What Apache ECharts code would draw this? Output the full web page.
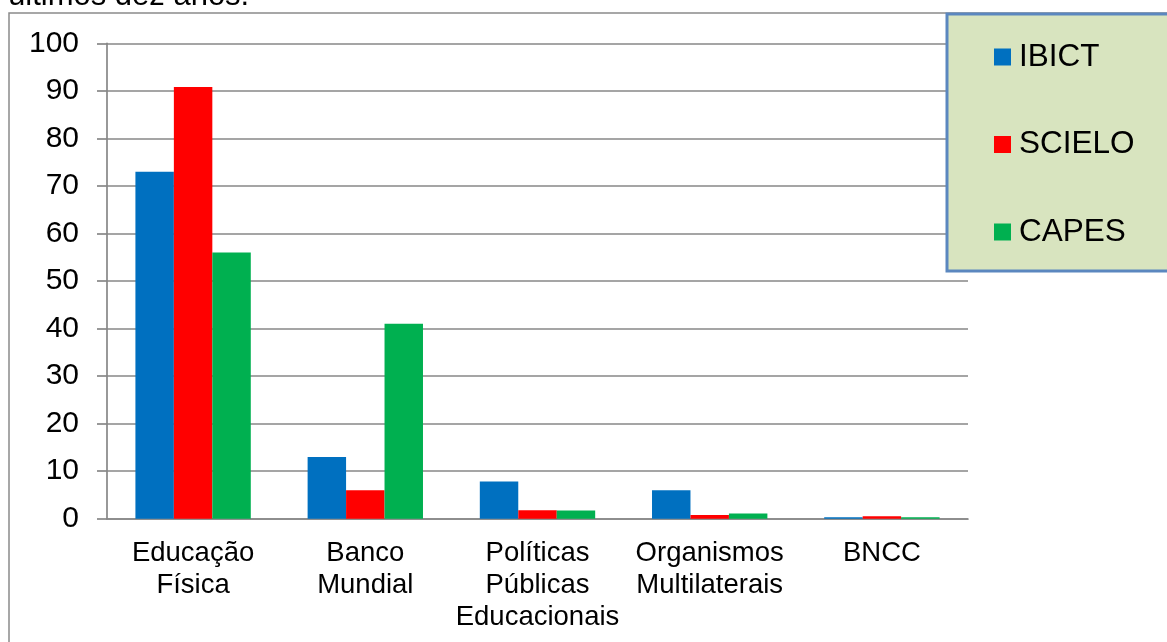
<!DOCTYPE html>
<html>
<head>
<meta charset="utf-8">
<script src="https://cdn.jsdelivr.net/npm/echarts@6/dist/echarts.min.js"></script>
<style>
html,body{margin:0;padding:0;background:#fff;}
#c{width:1167px;height:642px;}
</style>
</head>
<body>
<div id="c"></div>
<script>
const categories = ['Educação\nFísica', 'Banco\nMundial', 'Políticas\nPúblicas\nEducacionais', 'Organismos\nMultilaterais', 'BNCC'];
const ibict = [73, 13, 7.8, 6, 0.3];
const scielo = [90.8, 6, 1.8, 0.8, 0.5];
const capes = [56, 41, 1.7, 1.1, 0.3];
const yTicks = {min: 0, max: 100, interval: 10};
const headText = 'últimos dez anos.';

const FONT = 'Liberation Sans, Arial, sans-serif';
const chart = echarts.init(document.getElementById('c'), null, {renderer: 'canvas'});
const mk = (name, data, color) => ({
  name, type: 'bar', data, barGap: '0%', barCategoryGap: '33%',
  itemStyle: {color}, z: 3
});
chart.setOption({
  animation: false,
  textStyle: {fontFamily: FONT},
  graphic: [
    {type: 'rect', z: -10, shape: {x: 9, y: 13, width: 1300, height: 800},
     style: {fill: '#fff', stroke: '#8a8a8a', lineWidth: 1.5}},
    {type: 'text', z: 10, style: {x: 8, y: 12, text: headText, font: '31px ' + FONT, fill: '#000', verticalAlign: 'bottom'}},
    {type: 'rect', z: 5, shape: {x: 947, y: 14, width: 300, height: 257},
     style: {fill: '#d8e4bf', stroke: '#5b87bf', lineWidth: 3}}
  ],
  legend: {
    orient: 'vertical', left: 994, top: 41, padding: 0, itemGap: 55.5,
    itemWidth: 17, itemHeight: 17, icon: 'rect', z: 20,
    textStyle: {fontSize: 31.5, lineHeight: 31, color: '#000', fontFamily: FONT, padding: [0, 0, 0, 3]},
    data: ['IBICT', 'SCIELO', 'CAPES']
  },
  grid: {left: 107, right: 199, top: 43.3, bottom: 123.3, containLabel: false},
  xAxis: {
    type: 'category', data: categories,
    axisLine: {show: true, lineStyle: {color: '#878787', width: 1.7}},
    axisTick: {show: false},
    axisLabel: {fontSize: 27.5, lineHeight: 32, color: '#000', margin: 19, interval: 0, fontFamily: FONT}
  },
  yAxis: {
    type: 'value', min: yTicks.min, max: yTicks.max, interval: yTicks.interval,
    axisLine: {show: true, lineStyle: {color: '#878787', width: 1.7}},
    axisTick: {show: true, length: 10, lineStyle: {color: '#878787', width: 1.7}},
    splitLine: {show: true, lineStyle: {color: '#878787', width: 1.7}},
    axisLabel: {fontSize: 30, color: '#000', margin: 28, fontFamily: FONT}
  },
  series: [mk('IBICT', ibict, '#0070c0'), mk('SCIELO', scielo, '#ff0000'), mk('CAPES', capes, '#00b050')]
});
</script>
</body>
</html>
